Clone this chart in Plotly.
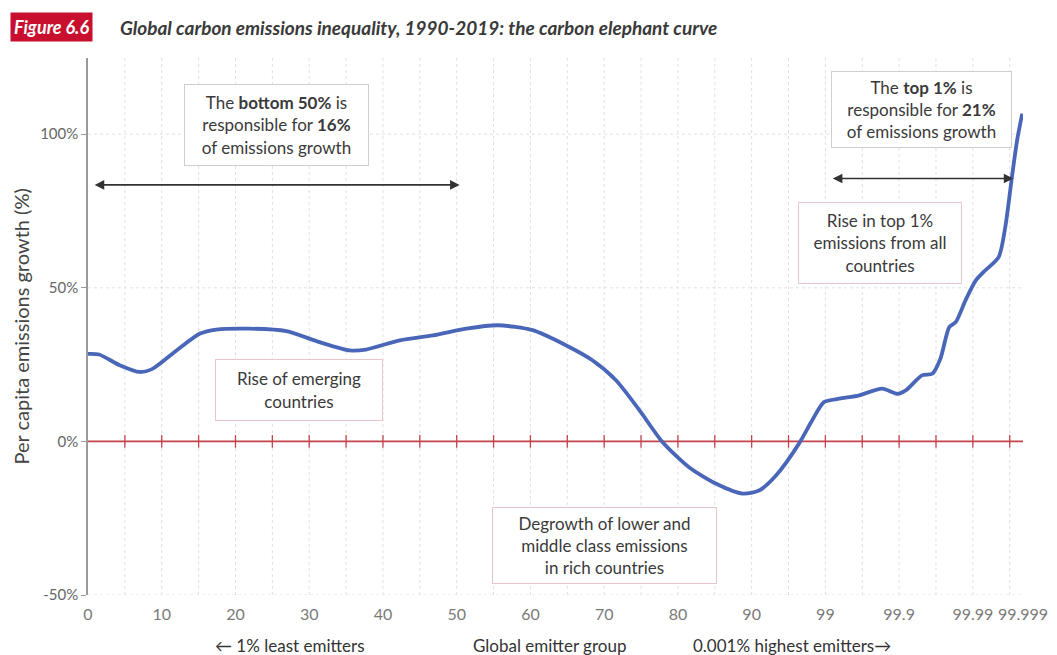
import plotly.graph_objects as go

# ---- data ----
group_pos = [0, 1.5, 4.3, 7.0, 8.8, 12.0, 15.2, 17.4, 21.9, 26.9, 31.4, 35.5, 37.7,
             42.3, 46.8, 51.3, 55.6, 60.3, 64.8, 68.4, 71.6, 74.8, 77.9, 81.5, 85.2,
             88.8, 91.0, 93.3, 96.4, 98.2, 99.8, 101.9, 104.6, 107.7, 109.8, 110.9,
             113.1, 114.5, 115.6, 116.8, 117.7, 119.0, 120.4, 121.7, 123.5, 124.4,
             125.3, 126.0, 126.7]
growth_pct = [28.5, 28.3, 24.8, 22.6, 23.7, 29.6, 35.1, 36.4, 36.7, 35.9, 32.3, 29.6, 29.9,
              32.9, 34.5, 36.7, 37.8, 36.2, 31.3, 26.4, 19.9, 10.1, -0.2, -8.4, -13.8,
              -17.0, -16.0, -11.1, -0.8, 6.8, 12.8, 13.9, 15.0, 17.2, 15.5, 16.6,
              21.5, 22.0, 26.9, 37.2, 38.9, 45.9, 52.4, 55.7, 60.0, 69.8,
              86.1, 98.0, 106.7]

x_tick_vals = [0, 10, 20, 30, 40, 50, 60, 70, 80, 90, 100, 110, 120, 126.8]
x_tick_text = ["0", "10", "20", "30", "40", "50", "60", "70", "80", "90",
               "99", "99.9", "99.99", "99.999"]
x_grid_vals = list(range(5, 126, 5))
y_tick_vals = [-50, 0, 50, 100]
y_tick_text = ["-50%", "0%", "50%", "100%"]

FONT = "Lato"
RED = "#c4434b"
fig = go.Figure()

# horizontal grid lines (except zero, which is the red baseline)
for gy in y_tick_vals:
    if gy != 0:
        fig.add_shape(type="line", xref="x domain", yref="y", x0=0, x1=1, y0=gy, y1=gy,
                      line=dict(color="#e2e2e2", width=1, dash="dot"), layer="below")
# vertical grid lines
for gx in x_grid_vals:
    fig.add_shape(type="line", xref="x", yref="y domain", x0=gx, x1=gx, y0=0, y1=1,
                  line=dict(color="#e0e0e0", width=1, dash="dot"), layer="below")

# zero line with small crossing ticks
fig.add_shape(type="line", xref="x domain", yref="y", x0=0, x1=1, y0=0, y1=0,
              line=dict(color=RED, width=1.8), layer="below")
fig.add_trace(go.Scatter(x=x_grid_vals, y=[0] * len(x_grid_vals), mode="markers",
                         marker=dict(symbol="line-ns-open", size=9, color=RED,
                                     line=dict(color=RED, width=1.3)),
                         hoverinfo="skip", showlegend=False))

fig.add_trace(go.Scatter(x=group_pos, y=growth_pct, mode="lines",
                         line=dict(color="#4a66b9", width=3.8, shape="spline", smoothing=0.7),
                         showlegend=False))

# page body has an 8px margin: figure is sized/offset to compensate
fig.update_layout(
    width=1049, height=647,
    margin=dict(l=80, r=34, t=50, b=60, autoexpand=False),
    paper_bgcolor="white", plot_bgcolor="white",
    font=dict(family=FONT, color="#444"),
    xaxis=dict(range=[0, 126.8], tickvals=x_tick_vals, ticktext=x_tick_text,
               showgrid=False, zeroline=False, showline=False, ticks="",
               tickfont=dict(size=16, color="#7a7a7a"), ticklabelstandoff=8,
               automargin=False),
    yaxis=dict(range=[-50, 124.8], tickvals=y_tick_vals, ticktext=y_tick_text,
               showgrid=False, zeroline=False,
               showline=True, linecolor="#9a9a9a", linewidth=1.5,
               ticks="outside", ticklen=5, tickcolor="#9a9a9a",
               tickfont=dict(size=15, color="#666"), automargin=False),
)

anns = []
# title
anns.append(dict(text="Figure 6.6", xref="paper", yref="paper", x=0, y=1, xanchor="left",
                 yanchor="middle", xshift=-78, yshift=31, showarrow=False,
                 font=dict(family=FONT, size=18, color="white", style="italic", weight="bold"),
                 bgcolor="#c8102e", borderpad=3))
anns.append(dict(text="Global carbon emissions inequality, 1990-2019: the carbon elephant curve",
                 xref="paper", yref="paper", x=0, y=1, xanchor="left", yanchor="middle",
                 xshift=30, yshift=31, showarrow=False,
                 font=dict(family=FONT, size=19, color="#3a3a3a", style="italic", weight="bold")))
# y title
anns.append(dict(text="Per capita emissions growth (%)", xref="paper", yref="paper",
                 x=0, y=0.5, xanchor="center", yanchor="middle", xshift=-68, textangle=-90,
                 showarrow=False, font=dict(family=FONT, size=20, color="#444")))
# bottom labels
for txt, px in [("← 1% least emitters", 290), ("Global emitter group", 549),
                ("0.001% highest emitters→", 792)]:
    anns.append(dict(text=txt, xref="paper", yref="paper", x=(px - 88) / 935, y=0,
                     xanchor="center", yanchor="middle", yshift=-50, showarrow=False,
                     font=dict(family=FONT, size=17, color="#333")))

GRAY = "#cfcfcf"
PINK = "#e8c6ca"
boxes = [
    ("The <b>bottom 50%</b> is<br>responsible for <b>16%</b><br>of emissions growth", 25.5, 102.9, 181, 78, GRAY),
    ("Rise of emerging<br>countries", 28.6, 16.6, 164, 58, PINK),
    ("Degrowth of lower and<br>middle class emissions<br>in rich countries", 70.1, -34.0, 221, 73, PINK),
    ("The <b>top 1%</b> is<br>responsible for <b>21%</b><br>of emissions growth", 113.0, 108.0, 177, 73, GRAY),
    ("Rise in top 1%<br>emissions from all<br>countries", 107.4, 64.5, 160, 78, PINK),
]
for txt, bx, by, w, h, bc in boxes:
    anns.append(dict(text=txt, x=bx, y=by, xref="x", yref="y", showarrow=False,
                     width=w, height=h, borderpad=1, bordercolor=bc, borderwidth=1,
                     bgcolor="white", font=dict(family=FONT, size=17, color="#3a3a3a"),
                     align="center"))

# double arrows
for x0, x1, yy in [(0.7, 50.4, 83.5), (100.8, 125.5, 85.6)]:
    anns.append(dict(x=x1, y=yy, ax=x0, ay=yy, xref="x", yref="y", axref="x", ayref="y",
                     text="", showarrow=True, arrowside="end+start", arrowhead=2,
                     arrowsize=1.2, arrowwidth=1.6, arrowcolor="#333", standoff=0,
                     startstandoff=0))

fig.update_layout(annotations=anns)
fig.write_html("out.html")
